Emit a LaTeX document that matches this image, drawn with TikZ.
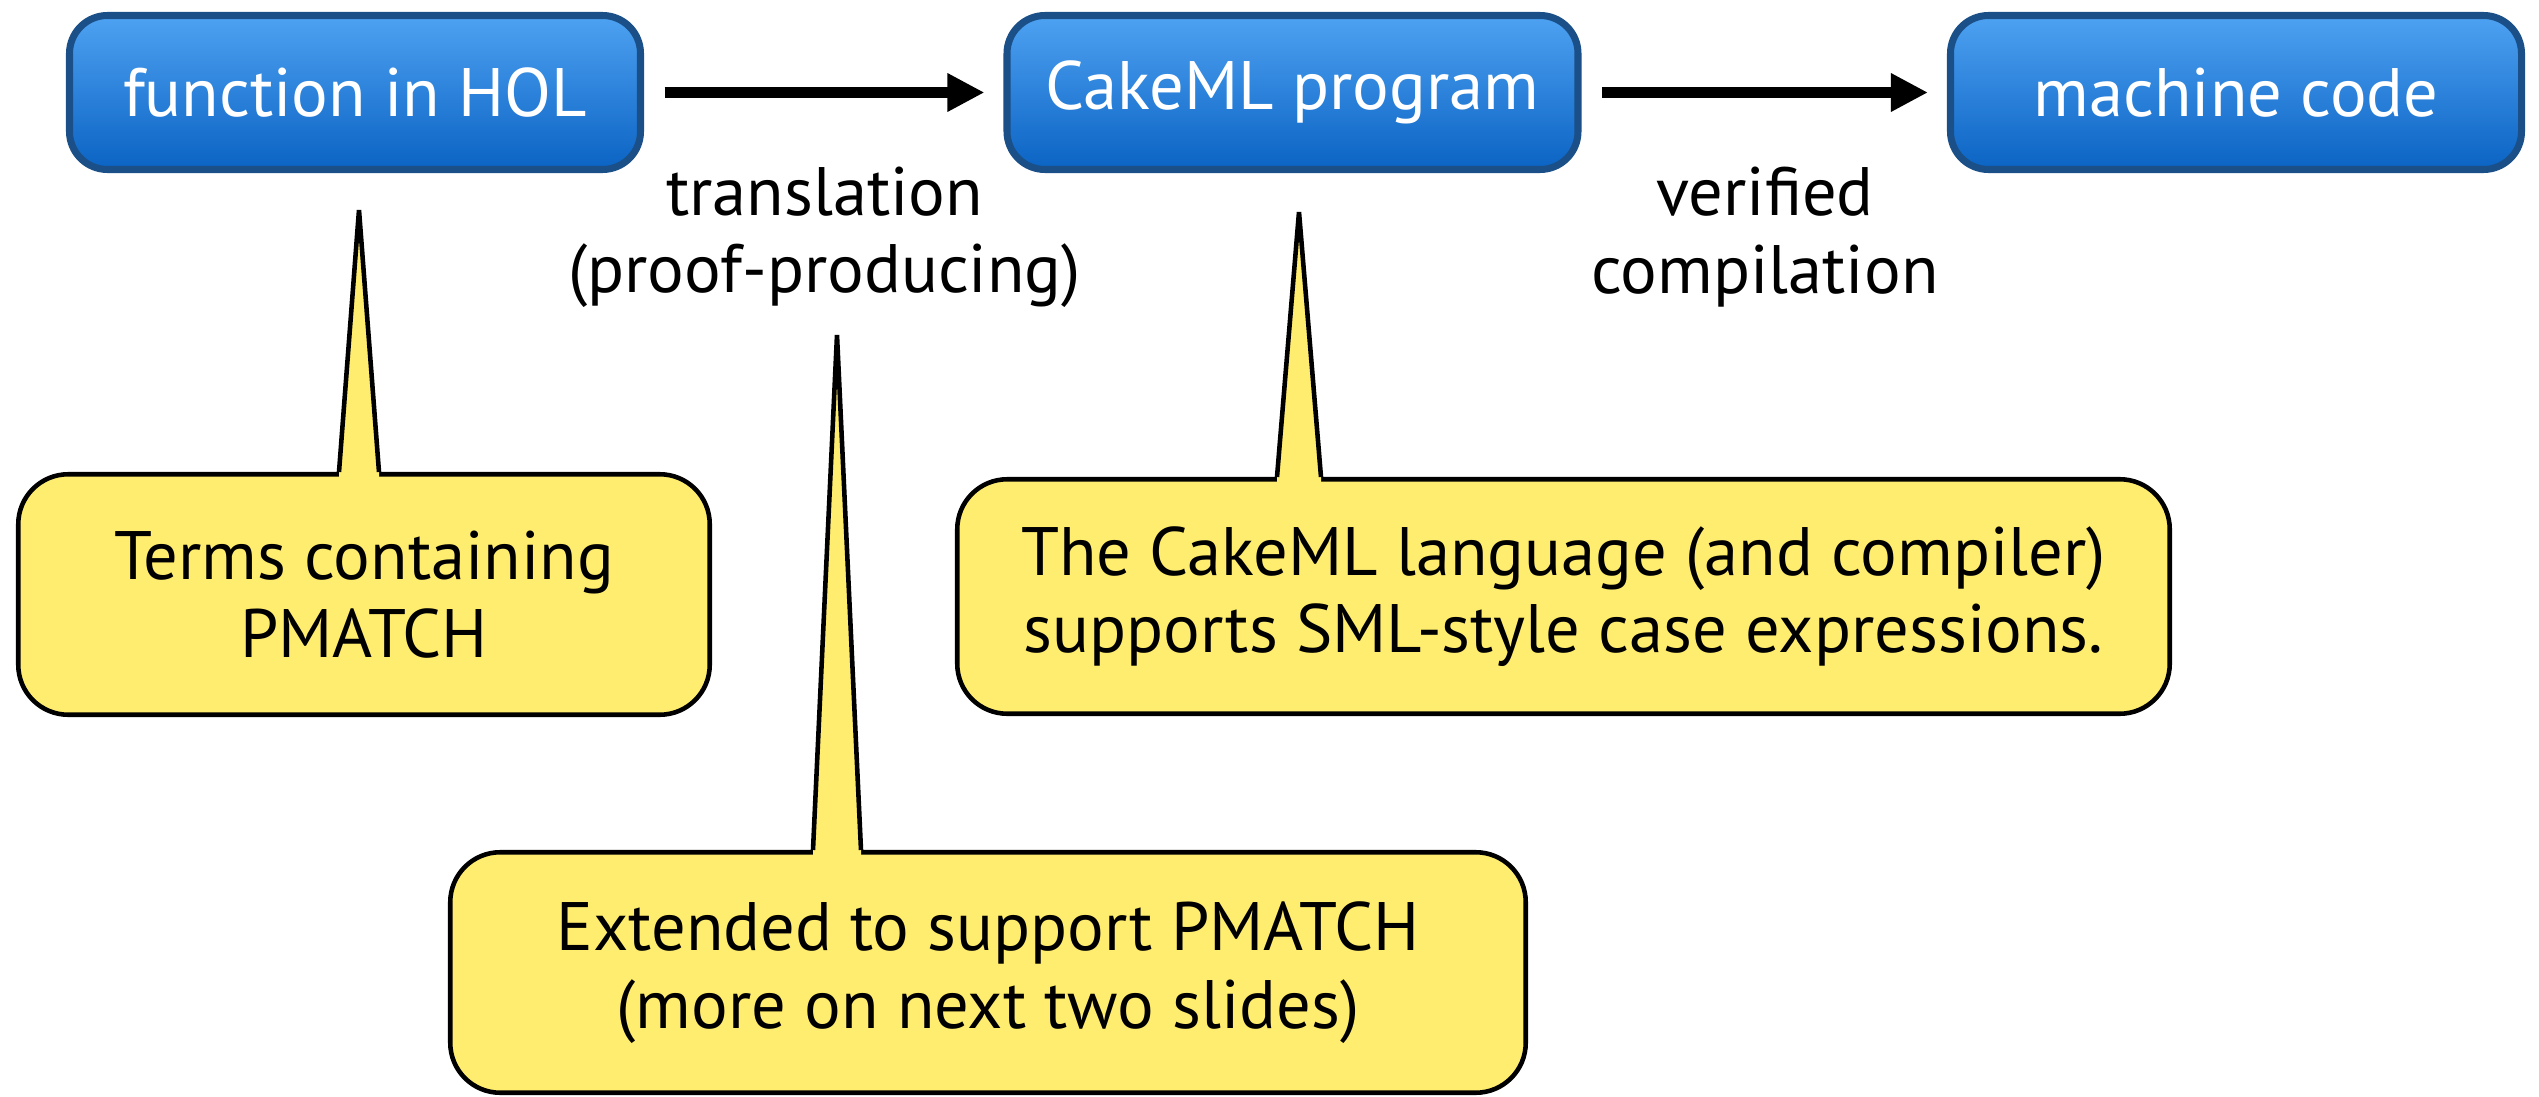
\documentclass[tikz,border=0pt]{standalone}
\usepackage{fontspec}
\setmainfont{PT Sans}
\usetikzlibrary{arrows.meta,calc,positioning}
\definecolor{skytop}{HTML}{4EA2F2}
\definecolor{skybot}{HTML}{0B63C3}
\definecolor{navy}{HTML}{1A4F88}
\definecolor{lemon}{HTML}{FFED70}

\begin{document}
\begin{tikzpicture}[font=\fontsize{19.5}{22}\selectfont,>={Triangle[length=3.7mm,width=3.6mm]},
  stage/.style={draw=navy,line width=2pt,rounded corners=3.8mm,top color=skytop,bottom color=skybot,
    text=white,minimum width=5.71cm,minimum height=1.54cm,inner sep=0pt},
  flow/.style={->,line width=2.9pt,shorten <=2.05mm,shorten >=1.9mm},
  bubble/.style={draw,line width=1.3pt,fill=lemon,rounded corners=5mm,align=center,inner sep=0pt},
  spike/.style={line width=1.3pt,line join=miter}]
  \useasboundingbox (0,0) rectangle (25.39,-10.97);

  % pipeline
  \node[stage] (hol) at (3.55,-0.925) {function in HOL};
  \node[stage] (cake) at (12.925,-0.925) {CakeML program};
  \node[stage] (mc) at (22.36,-0.925) {machine code};
  \draw[flow] (hol.east) -- (cake.west);
  \draw[flow] (cake.east) -- (mc.west);
  \node[align=center] (trans) at (8.245,-2.37) {translation\\(proof-producing)};
  \node[align=center] (comp) at (17.65,-2.37) {verified\\compilation};

  % callouts
  \node[bubble,minimum width=6.915cm,minimum height=2.405cm] (c1) at (3.64,-5.945)
    {Terms containing\\PMATCH};
  \node[bubble,minimum width=12.125cm,minimum height=2.345cm] (c2) at (15.635,-5.965)
    {The CakeML language (and compiler)\\supports SML-style case expressions.};
  \node[bubble,minimum width=10.755cm,minimum height=2.405cm] (c3) at (9.88,-9.725)
    {Extended to support PMATCH\\(more on next two slides)};
  \coordinate (t1) at (3.59,-2.10);
  \coordinate (t2) at (12.99,-2.12);
  \coordinate (t3) at (8.37,-3.35);

  \fill[lemon] ($(c1.north -| t1)+(-.2,-.05)$) -- ($(c1.north -| t1)+(-.2,0)$) -- (t1)
    -- ($(c1.north -| t1)+(.2,0)$) -- ($(c1.north -| t1)+(.2,-.05)$) -- cycle;
  \draw[spike] ($(c1.north -| t1)+(-.2,0)$) -- (t1) -- ($(c1.north -| t1)+(.2,0)$);
  \fill[lemon] ($(c2.north -| t2)+(-.22,-.05)$) -- ($(c2.north -| t2)+(-.22,0)$) -- (t2)
    -- ($(c2.north -| t2)+(.22,0)$) -- ($(c2.north -| t2)+(.22,-.05)$) -- cycle;
  \draw[spike] ($(c2.north -| t2)+(-.22,0)$) -- (t2) -- ($(c2.north -| t2)+(.22,0)$);
  \fill[lemon] ($(c3.north -| t3)+(-.24,-.05)$) -- ($(c3.north -| t3)+(-.24,0)$) -- (t3)
    -- ($(c3.north -| t3)+(.24,0)$) -- ($(c3.north -| t3)+(.24,-.05)$) -- cycle;
  \draw[spike] ($(c3.north -| t3)+(-.24,0)$) -- (t3) -- ($(c3.north -| t3)+(.24,0)$);
\end{tikzpicture}
\end{document}
